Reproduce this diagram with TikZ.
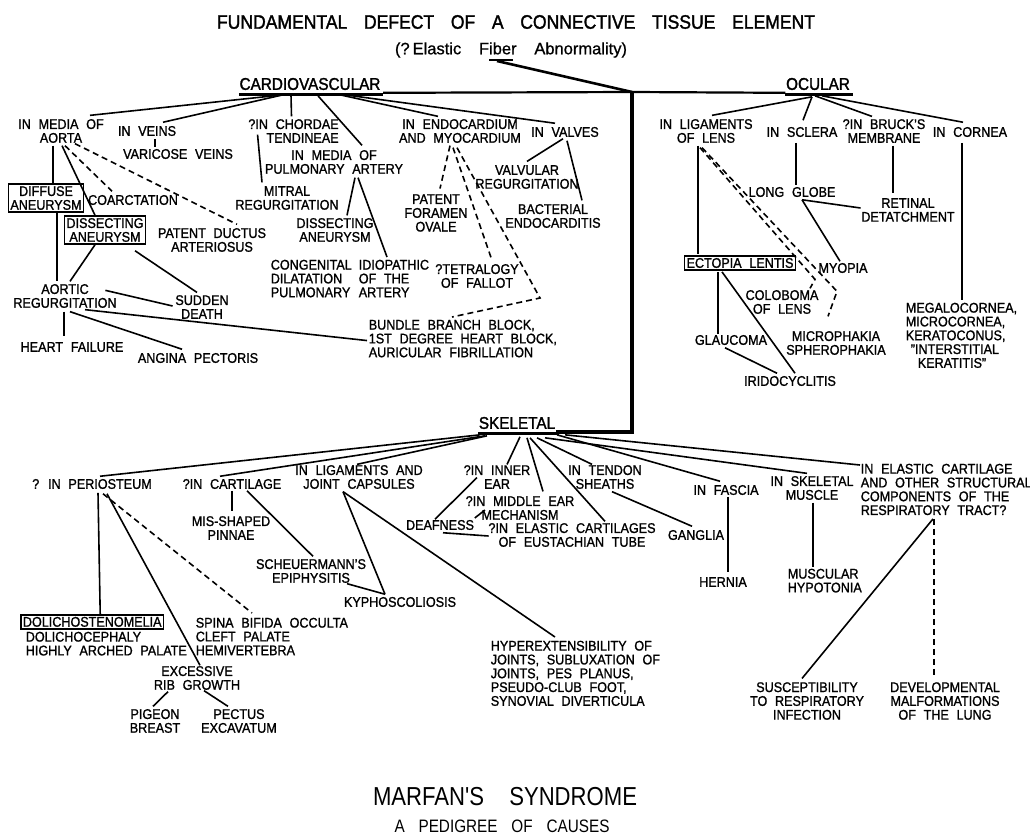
\documentclass[tikz,border=0pt]{standalone}
\usepackage{fontspec}
\setmainfont[FakeStretch=0.9,WordSpace=2.2,FakeBold=1.2]{Liberation Sans}
\newfontfamily\subfont[FakeBold=0.8]{Liberation Sans}
\newfontfamily\bigfont[FakeStretch=0.85]{Liberation Sans}
\newfontfamily\hdfont[FakeStretch=0.9,FakeBold=1.6]{Liberation Sans}
\usetikzlibrary{calc}
\newcommand\bodyf{\fontsize{14}{13.8}\selectfont}
\newcommand\hdf{\hdfont\fontsize{17}{17}\selectfont}
\begin{document}
\begin{tikzpicture}[x=1pt,y=-1pt,line width=1.6pt,
  t/.style={inner sep=0pt,font=\bodyf,align=center},
  tl/.style={inner sep=0pt,font=\bodyf,align=left,anchor=north west},
  bx/.style={draw,line width=1.8pt,inner sep=2pt,font=\bodyf,align=center},
  hd/.style={inner sep=0pt,font=\hdf},
  dsh/.style={line width=1.6pt,dash pattern=on 6pt off 4pt},
  ul/.style={line width=3pt}]
\fill[white] (0,0) rectangle (1030,836);
\useasboundingbox (0,0) rectangle (1030,836);

% titles
\node[inner sep=0pt,font=\hdfont\fontsize{19.5}{20}\selectfont] (title) at (516,22)
  {\makebox[598pt][s]{FUNDAMENTAL DEFECT OF A CONNECTIVE TISSUE ELEMENT}};
\node[inner sep=0pt,font=\subfont\fontsize{16.5}{17}\selectfont] (sub) at (511,50)
  {\makebox[232pt][s]{(?\kern3pt Elastic Fiber Abnormality)}};
\coordinate (fibL) at (489,60);
\coordinate (fibR) at (513,60);
\coordinate (fibA) at (497,61);
\draw[line width=2.4pt] (fibL) -- (fibR);

% headers
\node[hd] (cv) at (310,84) {CARDIOVASCULAR};
\node[hd] (oc) at (818,84) {OCULAR};
\node[hd] (sk) at (517,423) {SKELETAL};
\draw[ul] ($(cv.south west)+(0,3.5)$) -- ($(cv.south east)+(2,3.5)$);
\draw[ul] ($(oc.south west)+(0,3.5)$) -- ($(oc.south east)+(2,3.5)$);
\draw[ul] ($(sk.south west)+(0,4)$) -- ($(sk.south east)+(3,4)$);

% trunk
\coordinate (J) at (632,92);
\coordinate (K) at (632,432);
\draw[line width=2.2pt] ($(cv.south east)+(2,2)$) -- (J) -- ($(oc.south west)+(0,2)$);
\draw[line width=2.6pt] (fibA) -- (J);
\draw[line width=3.2pt] (J) -- (K) -- (K -| sk.south east);

% ---------- CARDIOVASCULAR ----------
\node[t] (aorta) at (61,131) {IN MEDIA OF\\AORTA};
\node[t] (veins) at (147,131) {IN VEINS};
\node[t] (varic) at (178,154) {VARICOSE VEINS};
\node[t,align=right] (chord) at (293.5,131) {?IN CHORDAE\\TENDINEAE};
\node[t] (mitral) at (287,198) {MITRAL\\REGURGITATION};
\node[t] (pulm) at (334,162) {IN MEDIA OF\\PULMONARY ARTERY};
\node[t] (dissp) at (335,230) {DISSECTING\\ANEURYSM};
\node[tl] (cong) at (270,259) {\makebox[88pt][l]{CONGENITAL}IDIOPATHIC\\\makebox[88pt][l]{DILATATION}OF THE\\\makebox[88pt][l]{PULMONARY}ARTERY};
\node[t] (endo) at (460,131) {IN ENDOCARDIUM\\AND MYOCARDIUM};
\node[t] (valves) at (565,132) {IN VALVES};
\node[t] (valvreg) at (527,177) {VALVULAR\\REGURGITATION};
\node[t] (bact) at (553,216) {BACTERIAL\\ENDOCARDITIS};
\node[t] (pfo) at (436,213) {PATENT\\FORAMEN\\OVALE};
\node[t] (tof) at (477,276) {?TETRALOGY\\OF FALLOT};
\node[tl] (bbb) at (368,319) {BUNDLE BRANCH BLOCK,\\1ST DEGREE HEART BLOCK,\\AURICULAR FIBRILLATION};
\node[bx] (diffuse) at (46,198) {DIFFUSE\\ANEURYSM};
\node[t] (coarc) at (133,200) {COARCTATION};
\node[bx] (dissa) at (105,230) {DISSECTING\\ANEURYSM};
\node[t] (pda) at (212,240) {PATENT DUCTUS\\ARTERIOSUS};
\node[t] (ar) at (65,296) {AORTIC\\REGURGITATION};
\node[t] (sd) at (202,307) {SUDDEN\\DEATH};
\node[t] (hf) at (72,347) {HEART FAILURE};
\node[t] (ap) at (198,358) {ANGINA PECTORIS};

\coordinate (cvA) at ($(cv.south)+(-27,4)$);
\coordinate (cvB) at ($(cv.south)+(-19,4)$);
\coordinate (cvC) at ($(cv.south)+(8,5)$);
\coordinate (cvD) at ($(cv.south)+(30,4)$);
\coordinate (cvE) at ($(cv.south)+(35,4)$);
\draw (cvA) -- ($(aorta.north)+(29,-3)$);
\draw (cvA) -- ($(veins.north)+(16,-3)$);
\draw (cvB) -- ($(chord.north)+(-2,-2)$);
\draw (cvC) -- ($(pulm.north)+(28,-4)$);
\draw (cvD) -- ($(endo.north)+(-22,-2)$);
\draw (cvE) -- ($(valves.north)+(-10,-3)$);

\draw ($(aorta.south)+(-8,2)$) -- ($(diffuse.north)+(7,0)$);
\draw ($(aorta.south)+(1,2)$) -- ($(dissa.north)+(-10,0)$);
\draw[dsh] ($(aorta.south)+(4,2)$) -- ($(coarc.north)+(-21,-3)$);
\draw[dsh] ($(aorta.south)+(14,0)$) -- ($(pda.north)+(25,-3)$);
\draw ($(diffuse.south)+(11,0)$) -- ($(ar.north)+(-8,-2)$);
\draw ($(dissa.south)+(-10,0)$) -- ($(ar.north)+(5,-2)$);
\draw ($(dissa.south)+(30,6)$) -- ($(sd.north)+(-5,-2)$);
\draw ($(ar.north east)+(-12,7)$) -- ($(sd.west)+(-2,-1)$);
\draw ($(ar.south)+(-1,3)$) -- ($(hf.north)+(-8,-5)$);
\draw ($(ar.south)+(5,3)$) -- ($(ap.north)+(-16,-3)$);
\draw ($(ar.south)+(20,1)$) -- ($(bbb.west)+(-1,2)$);

\draw ($(veins.south)+(8,2)$) -- ($(varic.north)+(-23,-1)$);
\draw ($(chord.south west)+(10,-9)$) -- ($(mitral.north)+(-25,-3)$);
\draw ($(pulm.south)+(21,3)$) -- ($(dissp.north)+(12,-2)$);
\draw ($(pulm.south)+(24,3)$) -- ($(cong.north west)+(117,-2)$);

\draw[dsh] ($(endo.south)+(-10,2)$) -- ($(pfo.north)+(4,-5)$);
\draw[dsh] ($(endo.south)+(-7,4)$) -- ($(tof.north)+(15,-3)$);
\draw[dsh] ($(endo.south)+(-3,4)$) -- ($(bbb.north west)+(172,-21)$) -- ($(bbb.north west)+(84,-2)$);
\draw ($(valves.south)+(-2,1)$) -- ($(valvreg.north)+(0,-3)$);
\draw ($(valves.south)+(2,3)$) -- ($(bact.north)+(29,-3)$);

% ---------- OCULAR ----------
\node[t] (lig) at (706,131) {IN LIGAMENTS\\OF LENS};
\node[t] (scl) at (802,132) {IN SCLERA};
\node[t] (bruch) at (884,131) {?IN BRUCK'S\\MEMBRANE};
\node[t] (corn) at (970,132) {IN CORNEA};
\node[t] (globe) at (792,192) {LONG GLOBE};
\node[t] (ret) at (908,210) {RETINAL\\DETATCHMENT};
\node[bx] (ect) at (740,263) {ECTOPIA LENTIS};
\node[t] (myo) at (843,268) {MYOPIA};
\node[t] (colob) at (782,302) {COLOBOMA\\OF LENS};
\node[t] (glauc) at (731,340) {GLAUCOMA};
\node[t] (micro) at (836,343) {MICROPHAKIA\\SPHEROPHAKIA};
\node[t] (irid) at (790,381) {IRIDOCYCLITIS};
\node[tl] (mega) at (905,302) {MEGALOCORNEA,\\MICROCORNEA,\\KERATOCONUS,\\\hspace*{5pt}"INTERSTITIAL\\\hspace*{12pt}KERATITIS"};

\coordinate (ocA) at ($(oc.south)+(-6,6)$);
\coordinate (ocB) at ($(oc.south)+(-3,5)$);
\coordinate (ocC) at ($(oc.south)+(4,5)$);
\draw (ocA) -- ($(lig.north)+(6,-3)$);
\draw (ocA) -- ($(scl.north)+(1,-6)$);
\draw (ocB) -- ($(bruch.north)+(-12,-2)$);
\draw (ocC) -- ($(corn.north)+(-7,-4)$);

\draw ($(lig.south)+(-8,2)$) -- ($(ect.north)+(-42,-1)$);
\draw[dsh] ($(lig.south)+(-6,4)$) -- ($(colob.north)+(33,-10)$) -- ($(colob.north)+(28,-1)$);
\draw[dsh] ($(lig.south)+(-4,4)$) -- ($(micro.north)+(1,-39)$) -- ($(micro.north)+(-8,-14)$);
\draw ($(scl.south)+(-6,5)$) -- ($(globe.north)+(4,-1)$);
\draw ($(globe.south)+(10,2)$) -- ($(ret.west)+(0,-2)$);
\draw ($(globe.south)+(10,2)$) -- ($(myo.north)+(-3,-1)$);
\draw ($(bruch.south)+(9,2)$) -- ($(ret.north)+(-15,-4)$);
\draw ($(corn.south)+(-8,5)$) -- ($(mega.north west)+(57,-2)$);
\draw ($(ect.south)+(-22,1)$) -- ($(glauc.north)+(-13,0)$);
\draw ($(ect.south)+(-18,1)$) -- ($(irid.north)+(5,-2)$);
\draw ($(glauc.south)+(-6,2)$) -- ($(irid.north)+(-13,-2)$);

% ---------- SKELETAL ----------
\node[t] (peri) at (92,484) {? IN PERIOSTEUM};
\node[t] (cart) at (232,484) {?IN CARTILAGE};
\node[t] (ligj) at (359,477) {IN LIGAMENTS AND\\JOINT CAPSULES};
\node[t] (inner) at (497,477) {?IN INNER\\EAR};
\node[t] (midear) at (520,508) {?IN MIDDLE EAR\\MECHANISM};
\node[t] (deaf) at (440,525) {DEAFNESS};
\node[t] (elast) at (572,535) {?IN ELASTIC CARTILAGES\\OF EUSTACHIAN TUBE};
\node[t] (tendon) at (605,477) {IN TENDON\\SHEATHS};
\node[t] (gang) at (696,535) {GANGLIA};
\node[t] (fascia) at (726,490) {IN FASCIA};
\node[t] (skm) at (812,488) {IN SKELETAL\\MUSCLE};
\node[tl] (resp) at (860,463) {IN ELASTIC CARTILAGE\\AND OTHER STRUCTURAL\\COMPONENTS OF THE\\RESPIRATORY TRACT?};
\node[t] (hernia) at (723,582) {HERNIA};
\node[tl] (hypo) at (787,568) {MUSCULAR\\HYPOTONIA};
\node[t] (susc) at (807,701) {SUSCEPTIBILITY\\TO RESPIRATORY\\INFECTION};
\node[t] (dev) at (945,701) {DEVELOPMENTAL\\MALFORMATIONS\\OF THE LUNG};
\node[t] (mis) at (231,528) {MIS-SHAPED\\PINNAE};
\node[t] (scheu) at (311,571) {SCHEUERMANN'S\\EPIPHYSITIS};
\node[t] (kypho) at (400,602) {KYPHOSCOLIOSIS};
\node[tl] (hyper) at (490,640) {HYPEREXTENSIBILITY OF\\JOINTS, SUBLUXATION OF\\JOINTS, PES PLANUS,\\PSEUDO-CLUB FOOT,\\SYNOVIAL DIVERTICULA};
\node[bx,anchor=north west] (dol) at (20,614) {DOLICHOSTENOMELIA};
\node[tl] (dol2) at (25,631) {DOLICHOCEPHALY\\HIGHLY ARCHED PALATE};
\node[tl] (spina) at (195,617) {SPINA BIFIDA OCCULTA\\CLEFT PALATE\\HEMIVERTEBRA};
\node[t] (exc) at (197,678) {EXCESSIVE\\RIB GROWTH};
\node[t] (pigeon) at (155,721) {PIGEON\\BREAST};
\node[t] (pectus) at (239,721) {PECTUS\\EXCAVATUM};

\coordinate (skP) at ($(sk.south)+(-37,5)$);
\coordinate (skC) at ($(sk.south)+(-32,6)$);
\coordinate (skL) at ($(sk.south)+(-30,6)$);
\coordinate (skI) at ($(sk.south)+(3,7)$);
\coordinate (skM) at ($(sk.south)+(10,8)$);
\coordinate (skE) at ($(sk.south)+(13,8)$);
\coordinate (skT) at ($(sk.south)+(20,8)$);
\coordinate (skF) at ($(sk.south)+(40,5)$);
\coordinate (skS) at ($(sk.south)+(28,8)$);
\coordinate (skR) at ($(sk.south)+(48,5)$);
\draw (skP) -- ($(peri.north)+(8,-2)$);
\draw (skC) -- ($(cart.north)+(-12,-2)$);
\draw (skL) -- ($(ligj.north)+(-2,0)$);
\draw (skI) -- ($(inner.north)+(10,0)$);
\draw (skM) -- ($(midear.north)+(23,-4)$);
\draw (skE) -- ($(elast.north)+(33,-1)$);
\draw (skT) -- ($(tendon.north)+(-13,0)$);
\draw (skF) -- ($(fascia.north)+(-6,-3)$);
\draw (skS) -- ($(skm.north)+(-5,-2)$);
\draw (skR) -- ($(resp.north west)+(0,2)$);

\draw ($(peri.south)+(6,3)$) -- ($(dol.north)+(8,0)$);
\draw ($(peri.south)+(15,4)$) -- ($(exc.north)+(3,0)$);
\draw[dsh] ($(peri.south)+(11,4)$) -- ($(spina.north west)+(57,-4)$);
\draw ($(cart.south)+(0,1)$) -- ($(mis.north)+(1,-4)$);
\draw ($(cart.south)+(15,1)$) -- ($(scheu.north)+(2,-2)$);
\draw ($(ligj.south)+(-16,2)$) -- ($(kypho.north)+(-15,-2)$);
\draw ($(ligj.south)+(-16,2)$) -- ($(hyper.north west)+(65,-3)$);
\draw ($(scheu.south)+(36,0)$) -- ($(kypho.north)+(-15,-2)$);
\draw ($(inner.south west)+(14,-12)$) -- ($(deaf.north)+(-5,0)$);
\draw ($(midear.west)+(20,2)$) -- ($(deaf.east)+(0,-7)$);
\draw ($(deaf.south)+(3,2)$) -- ($(elast.west)+(1,1)$);
\draw ($(tendon.south)+(7,2)$) -- ($(gang.north)+(-4,-3)$);
\draw ($(fascia.south)+(2,1)$) -- ($(hernia.north)+(5,-4)$);
\draw ($(skm.south)+(1,2)$) -- ($(hypo.north west)+(26,-1)$);
\draw ($(resp.south west)+(73,3)$) -- ($(susc.north)+(-5,-3)$);
\draw[dsh] ($(resp.south west)+(74,3)$) -- ($(dev.north)+(-11,-3)$);
\draw ($(exc.south)+(-29,1)$) -- ($(pigeon.north)+(-2,-2)$);
\draw ($(exc.south)+(7,0)$) -- ($(pectus.north)+(-11,-2)$);

% bottom titles
\node[inner sep=0pt,font=\bigfont\fontsize{26}{26}\selectfont] (marfan) at (505,797)
  {\makebox[264pt][s]{MARFAN'S SYNDROME}};
\node[inner sep=0pt,font=\bigfont\fontsize{18}{18}\selectfont] (ped) at (502,826)
  {\makebox[215pt][s]{A PEDIGREE OF CAUSES}};
\end{tikzpicture}
\end{document}
